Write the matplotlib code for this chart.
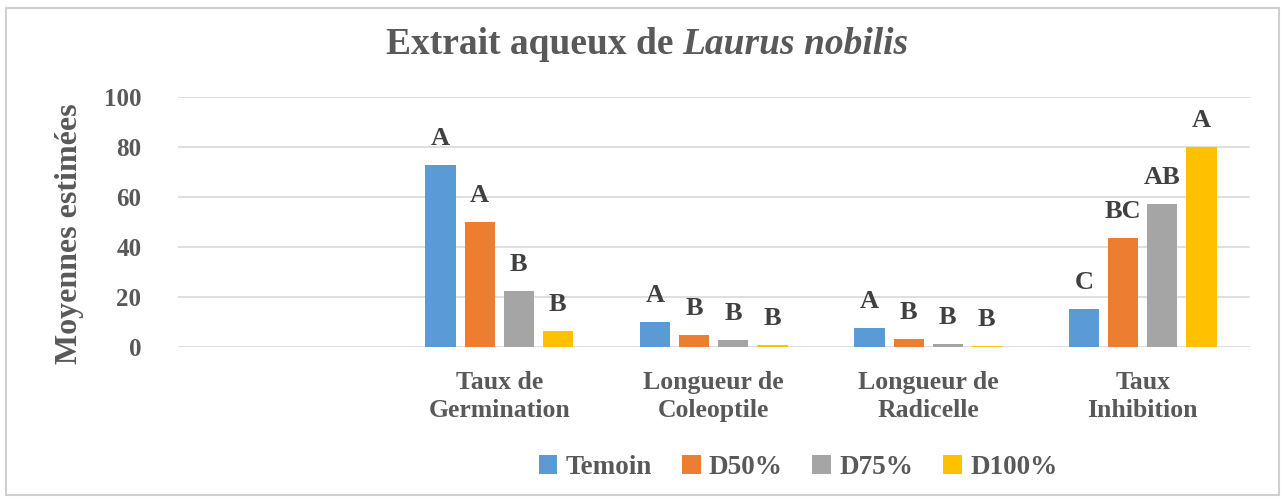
import numpy as np
import matplotlib.pyplot as plt
from matplotlib.patches import Rectangle

plt.rcParams['font.family'] = ['Liberation Serif', 'DejaVu Serif']
plt.rcParams['font.weight'] = 'bold'

categories = ['', 'Taux de\nGermination', 'Longueur de\nColeoptile', 'Longueur de\nRadicelle', 'Taux\nInhibition']
series = ['Temoin', 'D50%', 'D75%', 'D100%']
temoin = [np.nan, 73, 10, 7.6, 15.2]
d50 = [np.nan, 50, 4.8, 3.2, 43.6]
d75 = [np.nan, 22.4, 2.8, 1.2, 57.2]
d100 = [np.nan, 6.4, 0.8, 0.6, 80]
letters = {
    'Temoin': ['', 'A', 'A', 'A', 'C'],
    'D50%': ['', 'A', 'B', 'B', 'BC'],
    'D75%': ['', 'B', 'B', 'B', 'AB'],
    'D100%': ['', 'B', 'B', 'B', 'A'],
}
colors = ['#5B9BD5', '#ED7D31', '#A5A5A5', '#FFC000']

W, H = 1283, 499
fig = plt.figure(figsize=(W / 100, H / 100), dpi=100)
fig.patch.set_facecolor('white')
fig.patches.append(Rectangle((6 / W, 4 / H), 1 - 10 / W, 1 - 12 / H, transform=fig.transFigure,
                             fill=False, edgecolor='#d0d0d0', linewidth=1.5))

ax = fig.add_axes([177.5 / W, (H - 347) / H, (1250 - 177.5) / W, 250 / H])

x = np.arange(len(categories))
step = 0.182
bw = 0.142
for i, (name, vals) in enumerate(zip(series, [temoin, d50, d75, d100])):
    pos = x + (i - 1.5) * step
    ax.bar(pos, vals, width=bw, color=colors[i], label=name, zorder=3)
    for p, v, lab in zip(pos, vals, letters[name]):
        if lab:
            ax.annotate(lab, (p, v), xytext=(0, 19), textcoords='offset points',
                        ha='center', va='center', fontsize=19, color='#404040', fontweight='bold')

ax.set_xlim(-0.5, len(categories) - 0.5)
ax.set_ylim(0, 100)
ax.set_yticks(range(0, 101, 20))
ax.yaxis.grid(True, color='#d9d9d9', linewidth=1.2, zorder=0)
ax.set_axisbelow(True)
for s in ax.spines.values():
    s.set_visible(False)
ax.tick_params(axis='y', length=0, pad=26, labelsize=18, labelcolor='#595959')
ax.set_xticks(x)
ax.set_xticklabels(categories, fontsize=18.5, color='#595959', linespacing=1.3)
ax.tick_params(axis='x', length=0, pad=17)

fig.text(70 / W, 1 - 234 / H, 'Moyennes estimées', rotation=90, ha='center', va='center',
         fontsize=23, color='#595959', fontweight='bold')

# title: bold part + bold italic species name, centred as a whole
t1 = fig.text(0, 1 - 45 / H, 'Extrait aqueux de ', ha='left', va='center',
              fontsize=27, color='#595959', fontweight='bold')
t2 = fig.text(0, 1 - 45 / H, 'Laurus nobilis', ha='left', va='center',
              fontsize=27, color='#595959', fontweight='bold', style='italic')
fig.canvas.draw()
w1 = t1.get_window_extent().width
w2 = t2.get_window_extent().width
start = 647 - (w1 + w2) / 2
t1.set_x(start / W)
t2.set_x((start + w1) / W)

ax.legend(loc='center', bbox_to_anchor=(798 / W, 1 - 467 / H), bbox_transform=fig.transFigure,
          ncol=4, frameon=False, fontsize=19.5, handlelength=0.7, handleheight=0.7,
          handletextpad=0.3, columnspacing=1.1, labelcolor='#595959')

fig.savefig('out.png', dpi=100)
